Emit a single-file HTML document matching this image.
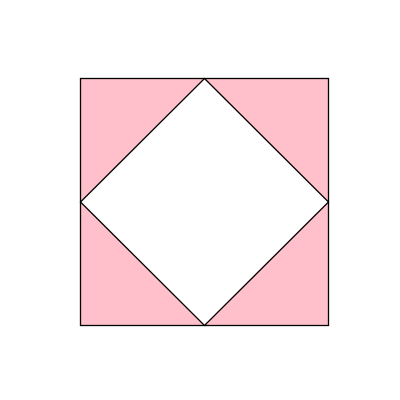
<!DOCTYPE html>
<html><head><meta charset="utf-8"><style>html,body{margin:0;padding:0;background:#fff;}svg{display:block}</style></head>
<body>
<svg width="400" height="400" viewBox="0 0 400 400">
  <rect x="80.5" y="78.5" width="248" height="247" fill="#ffc0cb" stroke="#000" stroke-width="1.3"/>
  <polygon points="204.5,78.5 328.5,202 204.5,325.5 80.5,202" fill="#fff" stroke="#000" stroke-width="1.3"/>
</svg>
</body></html>
